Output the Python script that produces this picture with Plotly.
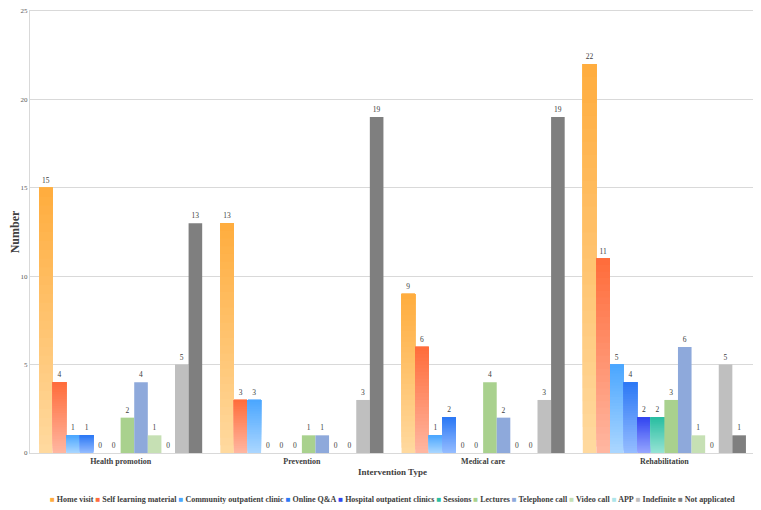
import plotly.graph_objects as go

categories = ["Health promotion", "Prevention", "Medical care", "Rehabilitation"]

home_visit = [15, 13, 9, 22]
self_learning = [4, 3, 6, 11]
community_clinic = [1, 3, 1, 5]
online_qa = [1, 0, 2, 4]
hospital_clinics = [0, 0, 0, 2]
sessions = [0, 0, 0, 2]
lectures = [2, 1, 4, 3]
telephone_call = [4, 1, 2, 6]
video_call = [1, 0, 0, 1]
app = [0, 0, 0, 0]
indefinite = [5, 3, 3, 5]
not_applicated = [13, 19, 19, 1]

# (name, values, top colour, bottom colour) - bottom None means flat fill
series = [
    ("Home visit", home_visit, "#FFAD3F", "#FFD99E"),
    ("Self learning material", self_learning, "#FF6D3C", "#FFB6A0"),
    ("Community outpatient clinic", community_clinic, "#4CA7FF", "#AAD6FF"),
    ("Online Q&A", online_qa, "#2D79F5", "#94BCFF"),
    ("Hospital outpatient clinics", hospital_clinics, "#3346F0", "#95A5FF"),
    ("Sessions", sessions, "#2BBEA2", "#95E3D4"),
    ("Lectures", lectures, "#A9D18E", None),
    ("Telephone call", telephone_call, "#8EA9DB", None),
    ("Video call", video_call, "#C6E0B4", None),
    ("APP", app, "#AEE6EA", None),
    ("Indefinite", indefinite, "#BFBFBF", None),
    ("Not applicated", not_applicated, "#7F7F7F", None),
]

FONT = "Liberation Serif"
N_SEG = 30


def hex_rgb(h):
    h = h.lstrip("#")
    return tuple(int(h[i:i + 2], 16) for i in (0, 2, 4))


def mix(c0, c1, t):
    a, b = hex_rgb(c0), hex_rgb(c1)
    return "rgb(%d,%d,%d)" % tuple(round(a[i] + (b[i] - a[i]) * t) for i in range(3))


label_font = dict(family=FONT, size=7.5, color="#404040")

fig = go.Figure()
for idx, (name, vals, top, bottom) in enumerate(series):
    group = str(idx)
    if bottom is None:
        fig.add_trace(go.Bar(
            x=categories, y=vals, name=name, offsetgroup=group,
            marker=dict(color=top, line=dict(width=0)),
            text=vals, textposition="outside", textfont=label_font,
            constraintext="none", cliponaxis=False, showlegend=False,
        ))
        continue
    # vertical gradient: each slice runs from its start up to the bar top,
    # later (darker) slices paint over the upper part -> no seams
    for k in range(N_SEG):
        last = k == N_SEG - 1
        fig.add_trace(go.Bar(
            x=categories,
            y=[v * (N_SEG - k) / N_SEG for v in vals],
            base=[v * k / N_SEG for v in vals],
            name=name, offsetgroup=group, legendgroup=name,
            marker=dict(color=mix(bottom, top, k / (N_SEG - 1)), line=dict(width=0)),
            text=vals if last else None,
            textposition="outside" if last else "none",
            textfont=label_font, constraintext="none", cliponaxis=False,
            showlegend=False, hoverinfo="skip" if not last else None,
        ))

legend_text = "&nbsp;".join(
    '<span style="color:%s">■</span> %s' % (top, name)
    for name, _, top, _ in series
)

fig.add_annotation(
    text=legend_text, xref="paper", yref="paper", x=0.5, y=-0.105,
    xanchor="center", yanchor="middle", showarrow=False,
    font=dict(family=FONT, size=8, color="#404040", weight="bold"),
)

fig.update_layout(
    width=753, height=502,
    margin=dict(l=22, r=6, t=3, b=57),
    paper_bgcolor="white", plot_bgcolor="white",
    barmode="group", bargap=0.1, bargroupgap=0,
    showlegend=False,
    font=dict(family=FONT, color="#404040"),
)
fig.update_xaxes(
    showline=True, linecolor="#D9D9D9", linewidth=1, mirror=True,
    ticks="", automargin=False,
    tickfont=dict(family=FONT, size=8, color="#404040", weight="bold"),
    title=dict(text="Intervention Type", standoff=4,
               font=dict(family=FONT, size=9, color="#404040", weight="bold")),
)
fig.update_yaxes(
    range=[0, 25], dtick=5, showgrid=True, gridcolor="#D9D9D9",
    showline=True, linecolor="#D9D9D9", linewidth=1, mirror=True,
    zeroline=False, ticks="", automargin=False, ticklabeloverflow="allow",
    tickfont=dict(family=FONT, size=7, color="#595959"),
    title=dict(text="Number", standoff=6,
               font=dict(family=FONT, size=12, color="#404040", weight="bold")),
)

fig.write_html("out.html")
